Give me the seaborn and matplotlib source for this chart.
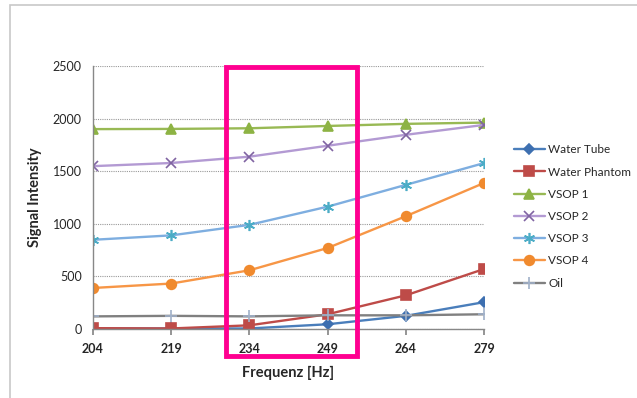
import matplotlib
matplotlib.use("Agg")
import matplotlib.pyplot as plt
import matplotlib.patches as mpatches
import numpy as np
import pandas as pd
import seaborn as sns

freqs = [204, 219, 234, 249, 264, 279]
water_tube = [5, 5, 5, 45, 125, 255]
water_phantom = [8, 5, 35, 140, 320, 570]
vsop1 = [1900, 1902, 1908, 1930, 1950, 1962]
vsop2 = [1548, 1578, 1638, 1742, 1846, 1940]
vsop3 = [848, 890, 990, 1163, 1370, 1577]
vsop4 = [390, 432, 558, 770, 1072, 1388]
oil = [120, 125, 120, 130, 130, 140]

series = ["Water Tube", "Water Phantom", "VSOP 1", "VSOP 2", "VSOP 3", "VSOP 4", "Oil"]
values = [water_tube, water_phantom, vsop1, vsop2, vsop3, vsop4, oil]
line_colors = ["#4a7ebb", "#be4b48", "#98b954", "#b39ad3", "#7eaee0", "#f79646", "#808080"]
marker_colors = ["#3d6fb0", "#be4b48", "#8db344", "#8064a2", "#4bacc6", "#f08a2e", "#a0b0c8"]
markers = ["D", "s", "^", "x", (6, 2, 0), "o", "+"]
msizes = [5, 7, 7, 7, 8, 7, 8]

sns.set_theme(style="white")
plt.rcParams["font.family"] = ["Lato", "DejaVu Sans"]

fig = plt.figure(figsize=(6.37, 3.98), dpi=100)
ax = fig.add_axes([93 / 637, 1 - 329 / 398, (484 - 93) / 637, (329 - 66) / 398])

# chart frame
fig.patches.append(mpatches.Rectangle((10 / 637, -0.1), 1.2, 1.1 - 5 / 398,
                                      transform=fig.transFigure, fill=False,
                                      edgecolor="#c8c8c8", linewidth=1.2))

for name, vals, lc, mc, mk, ms in zip(series, values, line_colors, marker_colors, markers, msizes):
    df = pd.DataFrame({"Frequenz": freqs, "Signal": vals})
    sns.lineplot(data=df, x="Frequenz", y="Signal", ax=ax, color=lc, linewidth=1.7,
                 marker=mk, markersize=ms, markerfacecolor=mc, markeredgecolor=mc,
                 markeredgewidth=1.2, label=name)

ax.set_xlim(204, 279)
ax.set_ylim(0, 2500)
ax.set_xticks(freqs)
ax.set_xticklabels([str(f) for f in freqs], fontweight="bold")
ax.set_yticks(np.arange(0, 2501, 500))
ax.tick_params(axis="x", direction="out", length=4, color="#888888", labelsize=9,
               pad=6, bottom=True)
ax.tick_params(axis="y", length=0, labelsize=9, pad=8)
ax.grid(axis="y", linestyle=(0, (1, 1)), color="#999999", linewidth=0.8)
ax.grid(axis="x", visible=False)
for side in ["top", "right"]:
    ax.spines[side].set_visible(False)
for side in ["left", "bottom"]:
    ax.spines[side].set_color("#888888")
    ax.spines[side].set_linewidth(1)
ax.set_xlabel("Frequenz [Hz]", fontweight="bold", fontsize=10.5, labelpad=8)
ax.set_ylabel("Signal Intensity", fontweight="bold", fontsize=10.5, labelpad=8)

ax.legend(loc="upper left", bbox_to_anchor=(1.065, 0.72), frameon=False, fontsize=8.5,
          handlelength=2.6, labelspacing=0.95, handletextpad=0.3, borderaxespad=0)

# highlight box
ax.add_patch(mpatches.Rectangle((229.5, -255), 25.2, 2745, transform=ax.transData,
                                fill=False, edgecolor="#ff0090", linewidth=3.5,
                                clip_on=False, zorder=10))

fig.savefig("out.png", dpi=100)
